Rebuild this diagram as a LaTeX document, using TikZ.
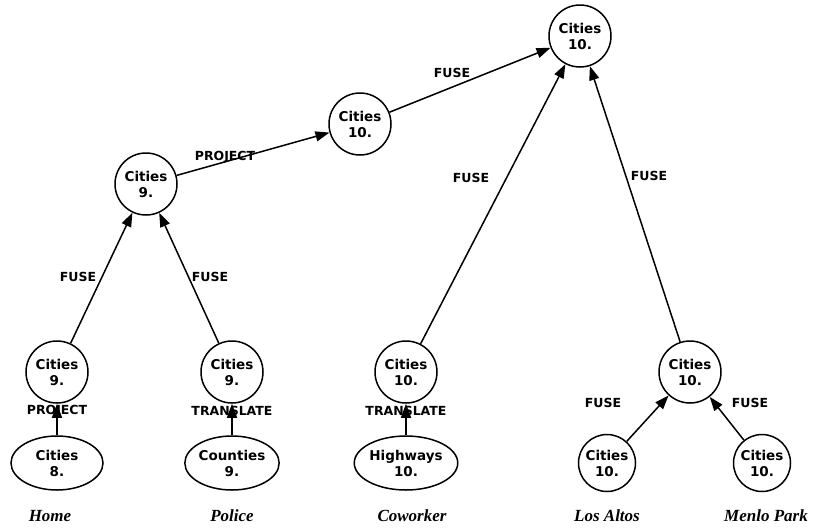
\documentclass[tikz,border=0pt]{standalone}
\usepackage{fontspec}
\usetikzlibrary{arrows.meta,shapes.geometric}
\newfontfamily\nodefont{DejaVu Sans}
\newfontfamily\placefont{Liberation Serif}
\begin{document}
\begin{tikzpicture}[x=1pt,y=-1pt,
  set/.style={circle,draw,line width=1.5pt,minimum size=62pt,inner sep=0pt,
    align=center,font=\nodefont\bfseries\fontsize{13.5}{16}\selectfont},
  leaf/.style={set,minimum size=57pt},
  oval/.style={ellipse,draw,line width=1.5pt,minimum width=92pt,minimum height=54pt,
    inner sep=0pt,align=center,font=\nodefont\bfseries\fontsize{13.5}{16}\selectfont},
  op/.style={line width=1.5pt,-{Triangle[length=14pt,width=10pt]}},
  oplabel/.style={font=\nodefont\bfseries\fontsize{12.5}{14}\selectfont,inner sep=1pt},
  place/.style={font=\placefont\bfseries\itshape\fontsize{17}{19}\selectfont}]
\useasboundingbox (0,0) rectangle (816,528);

% merged result and intermediate sets
\node[set] (top)  at (580,36)  {Cities\\10.};
\node[set] (mid)  at (360,124) {Cities\\10.};
\node[set] (c9)   at (146,184) {Cities\\9.};
\node[set] (home9) at (57,372)  {Cities\\9.};
\node[set] (pol9)  at (232,372) {Cities\\9.};
\node[set] (cow10) at (406,372) {Cities\\10.};
\node[set] (la10)  at (690,372) {Cities\\10.};

% source data sets
\node[oval] (home8) at (57,463)  {Cities\\8.};
\node[oval] (cnty)  at (232,463) {Counties\\9.};
\node[oval] (hwy)   at (406,463) {Highways\\10.};
\node[leaf] (la)    at (607,463) {Cities\\10.};
\node[leaf] (mp)    at (762,463) {Cities\\10.};

% sources
\node[place] (pHome) at (50,516)  {Home};
\node[place] (pPol)  at (232,516) {Police};
\node[place] (pCow)  at (412,516) {Coworker};
\node[place] (pLA)   at (607,516) {Los Altos};
\node[place] (pMP)   at (766,516) {Menlo Park};

% operations
\draw[op] (mid) -- (top);
\draw[op] (c9) -- (mid);
\draw[op] (cow10) -- (top);
\draw[op] (la10) -- (top);
\draw[op] (home9) -- (c9);
\draw[op] (pol9) -- (c9);
\draw[op] (home8) -- (home9);
\draw[op] (cnty) -- (pol9);
\draw[op] (hwy) -- (cow10);
\draw[op] (la) -- (la10);
\draw[op] (mp) -- (la10);

% operation labels
\node[oplabel] (l1)  at (452,73)  {FUSE};
\node[oplabel] (l2)  at (225,157) {PROJECT};
\node[oplabel] (l3)  at (471,178) {FUSE};
\node[oplabel] (l4)  at (649,176) {FUSE};
\node[oplabel] (l5)  at (78,277)  {FUSE};
\node[oplabel] (l6)  at (210,277) {FUSE};
\node[oplabel] (l7)  at (57,411)  {PROJECT};
\node[oplabel] (l8)  at (232,411) {TRANSLATE};
\node[oplabel] (l9)  at (406,411) {TRANSLATE};
\node[oplabel] (l10) at (603,403) {FUSE};
\node[oplabel] (l11) at (750,403) {FUSE};
\end{tikzpicture}
\end{document}
